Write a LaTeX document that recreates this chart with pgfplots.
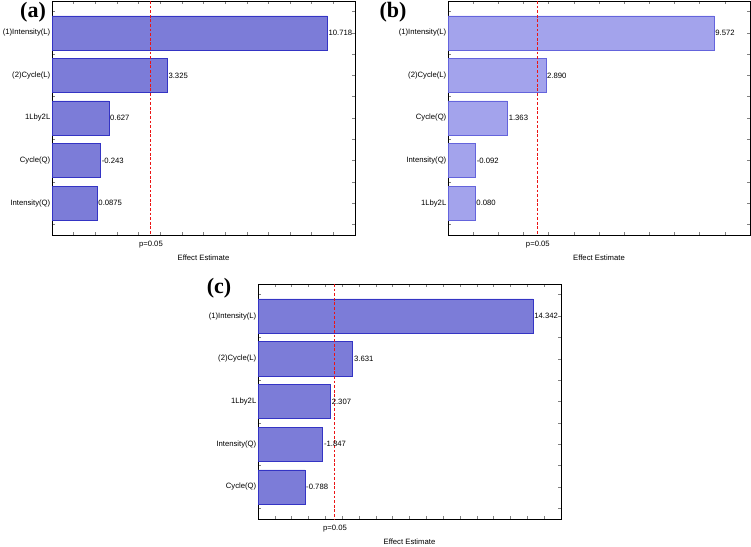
\documentclass[border=0pt]{standalone}
\usepackage{pgfplots}
\pgfplotsset{compat=1.18}
\usepackage{fontspec}
\setmainfont{Liberation Sans}
\newfontfamily\tnr{Liberation Serif}
\definecolor{barA}{RGB}{124,124,216}
\definecolor{edgeA}{RGB}{52,52,196}
\definecolor{barB}{RGB}{163,163,236}
\definecolor{edgeB}{RGB}{100,100,220}
\definecolor{pline}{RGB}{235,20,20}
\newcommand{\lblfont}{\fontsize{7.7}{8}\selectfont}
\pgfplotsset{
  pareto/.style={
    scale only axis,
    anchor=north west,
    y dir=reverse,
    ymin=-0.75, ymax=4.75,
    ytick={0,1,2,3,4},
    minor ytick={-0.5,0.5,1.5,2.5,3.5,4.5},
    xtick pos=both, ytick pos=both,
    xticklabel pos=lower, yticklabel pos=left,
    tick align=inside,
    major tick length=3pt, minor tick length=3pt,
    tick style={line width=0.5pt},
    axis line style={line width=0.8pt},
    ticklabel style={font=\lblfont},
    yticklabel style={inner sep=1.5pt},
    xticklabels={},
    extra x tick style={major tick length=0pt,
      xticklabel style={anchor=center, yshift=-10pt}},
    xlabel={Effect Estimate},
    xlabel style={font=\lblfont, at={(axis description cs:0.5,0)}, anchor=center, yshift=-23pt},
    every node near coord/.append style={font=\lblfont, inner sep=1pt, anchor=west},
    clip=false,
  },
  pbar/.style={xbar, bar width=0.8, line width=0.6pt,
    nodes near coords, nodes near coords align={horizontal},
    point meta=explicit symbolic},
  pdash/.style={color=pline, draw=pline, dash pattern=on 2.8pt off 1.8pt, line width=1pt},
}
% Bars in these Pareto charts are drawn from the left edge of the frame;
% the values are shifted by -xmin so that the bar base (0) sits at the frame.
\begin{document}
\begin{tikzpicture}
\useasboundingbox (0,0) rectangle (751pt,546pt);
% (a)  xmin = -2
\begin{axis}[pareto, at={(52pt,545pt)}, width=303pt, height=234pt,
  xmin=0, xmax=14, xtick={0,...,14},
  extra x ticks={4.571}, extra x tick labels={p=0.05},
  yticklabels={(1)Intensity(L),(2)Cycle(L),1Lby2L,Cycle(Q),Intensity(Q)}]
\addplot[pbar, fill=barA, draw=edgeA]
  table[x expr=\thisrow{v}+2, y=i, meta=lab] {
v i lab
10.718 0 10.718
3.325 1 3.325
0.627 2 0.627
0.243 3 -0.243
0.0875 4 0.0875
};
\addplot[pdash] coordinates {(4.571,-0.75) (4.571,4.75)};
\end{axis}
% (b)  xmin = -1
\begin{axis}[pareto, at={(448pt,545pt)}, width=302pt, height=234pt,
  xmin=0, xmax=12, xtick={0,...,12},
  extra x ticks={3.571}, extra x tick labels={p=0.05},
  yticklabels={(1)Intensity(L),(2)Cycle(L),Cycle(Q),Intensity(Q),1Lby2L}]
\addplot[pbar, fill=barB, draw=edgeB]
  table[x expr=\thisrow{v}+1, y=i, meta=lab] {
v i lab
9.572 0 9.572
2.890 1 2.890
1.363 2 1.363
0.092 3 -0.092
0.080 4 0.080
};
\addplot[pdash] coordinates {(3.571,-0.75) (3.571,4.75)};
\end{axis}
% (c)  xmin = -2
\begin{axis}[pareto, at={(258pt,262pt)}, width=303pt, height=235pt,
  xmin=0, xmax=18, xtick={0,...,18},
  extra x ticks={4.571}, extra x tick labels={p=0.05},
  yticklabels={(1)Intensity(L),(2)Cycle(L),1Lby2L,Intensity(Q),Cycle(Q)}]
\addplot[pbar, fill=barA, draw=edgeA]
  table[x expr=\thisrow{v}+2, y=i, meta=lab] {
v i lab
14.342 0 14.342
3.631 1 3.631
2.307 2 2.307
1.847 3 -1.847
0.788 4 -0.788
};
\addplot[pdash] coordinates {(4.571,-0.75) (4.571,4.75)};
\end{axis}
\node[font=\tnr\bfseries\fontsize{22}{24}\selectfont] at (33pt,534pt) {(a)};
\node[font=\tnr\bfseries\fontsize{22}{24}\selectfont] at (393pt,534pt) {(b)};
\node[font=\tnr\bfseries\fontsize{22}{24}\selectfont] at (219pt,258pt) {(c)};
\end{tikzpicture}
\end{document}
